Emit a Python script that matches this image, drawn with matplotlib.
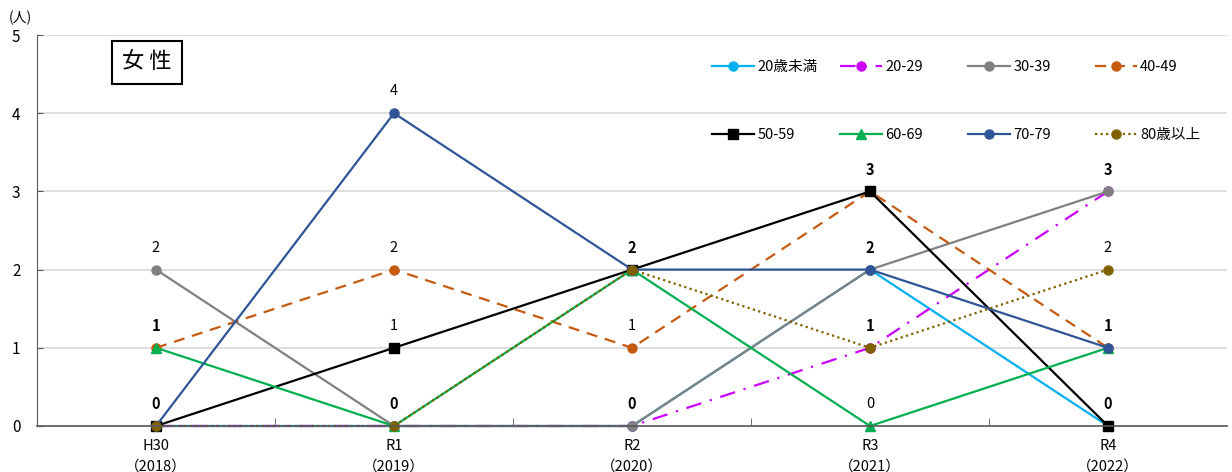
import numpy as np
import matplotlib
matplotlib.use("Agg")
from matplotlib import pyplot as plt

plt.rcParams['font.family'] = ['Noto Sans CJK JP', 'DejaVu Sans']

# Chart data
years = ["H30\n（2018）", "R1\n（2019）", "R2\n（2020）", "R3\n（2021）", "R4\n（2022）"]
groups = ["20歳未満", "20-29", "30-39", "40-49", "50-59", "60-69", "70-79", "80歳以上"]
under20 = [0, 0, 0, 2, 0]
age20s = [0, 0, 0, 1, 3]
age30s = [2, 0, 0, 2, 3]
age40s = [1, 2, 1, 3, 1]
age50s = [0, 1, 2, 3, 0]
age60s = [1, 0, 2, 0, 1]
age70s = [0, 4, 2, 2, 1]
over80 = [0, 0, 2, 1, 2]
series = [under20, age20s, age30s, age40s, age50s, age60s, age70s, over80]

# Styles per series
colors = ["#00B0F0", "#CC00FF", "#808080", "#C55A11", "#000000", "#00B050", "#2F5597", "#7F6000"]
markers = ["o", "o", "o", "o", "s", "^", "o", "o"]
styles = ["-", (0, (7, 4, 1, 4)), "-", (0, (5, 3.5)), "-", "-", "-", (0, (1, 1.5))]

fig = plt.figure(figsize=(12.32, 4.72), dpi=100)
ax = fig.add_axes([37 / 1232, 46 / 472, 1190 / 1232, 391 / 472])

x = np.arange(len(years))
lines = []
for vals, name, c, m, ls in zip(series, groups, colors, markers, styles):
    ln, = ax.plot(x, vals, color=c, marker=m, linestyle=ls, linewidth=1.6,
                  markersize=6.5, label=name, clip_on=False)
    lines.append(ln)

# Value labels above points (bold where several series share the value)
data = np.array(series)
for i in range(len(years)):
    col = data[:, i]
    for v in np.unique(col):
        n = np.sum(col == v)
        ax.text(x[i], v + 0.28, str(v), ha="center", va="center", fontsize=10.5,
                fontweight="bold" if n > 1 else "normal")

ax.set_xlim(-0.5, 4.5)
ax.set_ylim(0, 5)
ax.set_xticks(x)
ax.set_xticklabels(years, fontsize=10.5, linespacing=1.6)
ax.set_xticks(np.arange(0.5, 4.5, 1), minor=True)
ax.tick_params(axis="x", which="major", length=0, pad=9)
ax.tick_params(axis="x", which="minor", direction="in", length=6, color="#595959")
ax.set_yticks(range(6))
ax.tick_params(axis="y", direction="in", length=4, pad=12, labelsize=11, color="#595959")
ax.grid(axis="y", color="#D9D9D9", linewidth=1.2)
ax.set_axisbelow(True)
for s in ["top", "right"]:
    ax.spines[s].set_visible(False)
ax.spines["left"].set_color("#595959")
ax.spines["bottom"].set_color("#595959")
ax.spines["bottom"].set_linewidth(1.2)

# Unit and title box
fig.text(20 / 1232, 1 - 18 / 472, "(人)", fontsize=10, ha="center", va="center")
fig.text(147 / 1232, 1 - 62 / 472, "女 性", fontsize=16, ha="center", va="center",
         bbox=dict(boxstyle="square,pad=0.45", facecolor="white", edgecolor="black", linewidth=1.5))

# Legend in four columns, two rows
col_x = [712, 840, 968, 1095]
for k in range(4):
    fig.legend([lines[k], lines[k + 4]], [groups[k], groups[k + 4]],
               loc="upper left", bbox_to_anchor=(col_x[k] / 1232, 1 - 60 / 472),
               frameon=False, fontsize=10.5, handlelength=2.9, handletextpad=0.2,
               labelspacing=3.7, borderpad=0, borderaxespad=0)

fig.savefig("out.png", dpi=100)
